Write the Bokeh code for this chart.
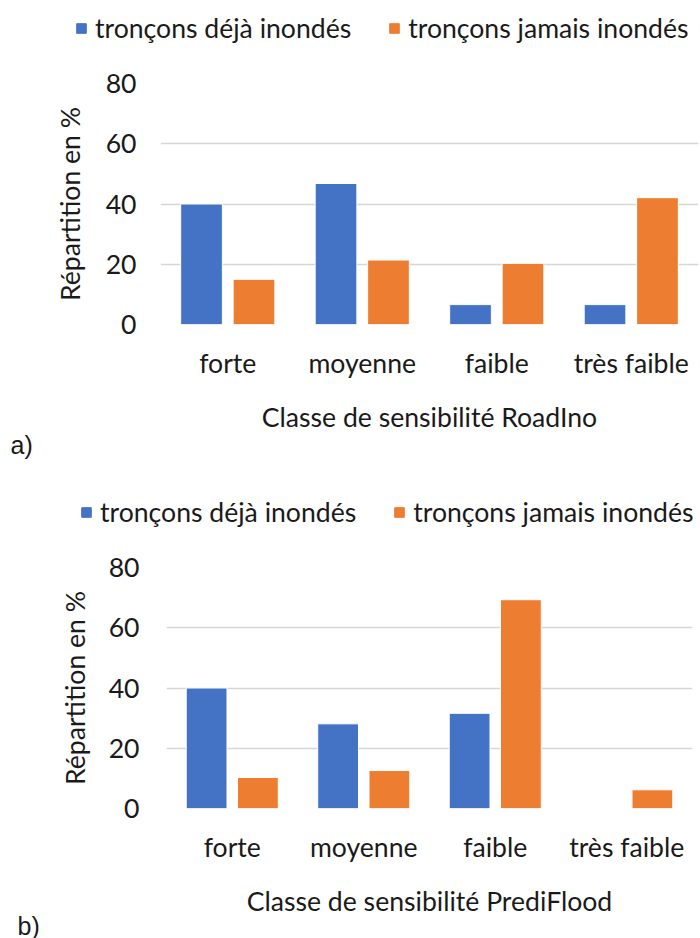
from bokeh.plotting import figure
from bokeh.models import (ColumnDataSource, FactorRange, Legend, LegendItem,
                          Title, FixedTicker, Range1d)
from bokeh.transform import dodge
from bokeh.layouts import column
from bokeh.embed import file_html
from bokeh.resources import INLINE

# ---- data ----
categories = ["forte", "moyenne", "faible", "très faible"]
series_names = ["tronçons déjà inondés", "tronçons jamais inondés"]
roadino_deja = [40.0, 46.8, 6.6, 6.6]
roadino_jamais = [15.0, 21.4, 20.3, 42.1]
prediflood_deja = [40.0, 28.1, 31.6, 0.0]
prediflood_jamais = [10.3, 12.6, 69.3, 6.2]
y_ticks = [0, 20, 40, 60, 80]
x_titles = ["Classe de sensibilité RoadIno", "Classe de sensibilité PrediFlood"]
y_title = "Répartition en %"
panel_tags = ["a)", "b)"]

BLUE = "#4472C4"
ORANGE = "#ED7D31"
TXT = "#1a1a1a"
FONT = "Lato"
FS = "26.6px"


def make_legend_strip(src, height, leg_x, leg_y):
    # strip holding only the legend; its bars lie far outside the visible y range
    s = figure(width=700, height=height,
               x_range=FactorRange(*categories), y_range=Range1d(1000, 1001),
               output_backend="svg", toolbar_location=None,
               x_axis_type=None, y_axis_type=None,
               min_border_left=0, min_border_right=0,
               min_border_top=0, min_border_bottom=0)
    s.frame_align = False
    s.outline_line_color = None
    s.xgrid.grid_line_color = None
    s.ygrid.grid_line_color = None
    d1 = s.vbar(x="cat", top="deja", width=0.3, source=src,
                fill_color=BLUE, line_color=BLUE, line_width=1)
    d2 = s.vbar(x="cat", top="jamais", width=0.3, source=src,
                fill_color=ORANGE, line_color=ORANGE, line_width=1)
    lg = Legend(items=[LegendItem(label=series_names[0], renderers=[d1]),
                       LegendItem(label=series_names[1], renderers=[d2])],
                location=(leg_x, leg_y), orientation="horizontal",
                glyph_width=12, glyph_height=12, label_standoff=8, spacing=37,
                padding=0, margin=0, border_line_color=None,
                background_fill_alpha=0,
                label_text_font=FONT, label_text_font_size=FS,
                label_text_color=TXT, label_height=28)
    s.add_layout(lg, "center")
    return s


def make_panel(src, xtitle, tag, height, mb_left, mb_right, mb_top, mb_bottom,
               lab_standoff, title_standoff, ytitle_standoff, ylab_standoff,
               tag_offset, tag_standoff):
    p = figure(x_range=FactorRange(*categories, range_padding=0),
               y_range=(0, 80), width=700, height=height,
               output_backend="svg", toolbar_location=None,
               min_border_left=mb_left, min_border_right=mb_right,
               min_border_top=mb_top, min_border_bottom=mb_bottom)
    p.frame_align = False
    p.outline_line_color = None
    p.vbar(x=dodge("cat", -0.195, range=p.x_range), top="deja", width=0.31,
           source=src, fill_color=BLUE, line_color="white", line_width=1)
    p.vbar(x=dodge("cat", 0.195, range=p.x_range), top="jamais", width=0.31,
           source=src, fill_color=ORANGE, line_color="white", line_width=1)

    p.xgrid.grid_line_color = None
    p.ygrid.grid_line_color = "#d6d6d6"
    p.ygrid.grid_line_width = 1.5
    p.yaxis.ticker = FixedTicker(ticks=y_ticks)

    for ax in (p.xaxis[0], p.yaxis[0]):
        ax.axis_line_color = None
        ax.major_tick_line_color = None
        ax.minor_tick_line_color = None
        ax.major_tick_out = 0
        ax.major_tick_in = 0
        ax.major_label_text_font = FONT
        ax.major_label_text_font_size = FS
        ax.major_label_text_color = TXT
        ax.axis_label_text_font = FONT
        ax.axis_label_text_font_size = FS
        ax.axis_label_text_font_style = "normal"
        ax.axis_label_text_color = TXT

    p.xaxis.axis_label = xtitle
    p.xaxis.major_label_standoff = lab_standoff
    p.xaxis.axis_label_standoff = title_standoff
    p.yaxis.axis_label = y_title
    p.yaxis.major_label_standoff = ylab_standoff
    p.yaxis.axis_label_standoff = ytitle_standoff

    p.add_layout(Title(text=tag, align="left", offset=tag_offset,
                       standoff=tag_standoff, text_font="Liberation Sans",
                       text_font_size="25px", text_font_style="normal",
                       text_color=TXT), "below")
    return p


src1 = ColumnDataSource(dict(cat=categories, deja=roadino_deja, jamais=roadino_jamais))
src2 = ColumnDataSource(dict(cat=categories, deja=prediflood_deja, jamais=prediflood_jamais))

leg1 = make_legend_strip(src1, 55, 75, 11)
p1 = make_panel(src1, x_titles[0], panel_tags[0], 415,
                160, 2, 28, 146, 22, 19, 17, 24, -150, -14)
leg2 = make_legend_strip(src2, 65, 80, 7)
p2 = make_panel(src2, x_titles[1], panel_tags[1], 403,
                166, 8, 32, 130, 22, 19, 15, 27, -149, -20)

layout = column(leg1, p1, leg2, p2, spacing=0)
open("out.html", "w").write(file_html(layout, INLINE))
